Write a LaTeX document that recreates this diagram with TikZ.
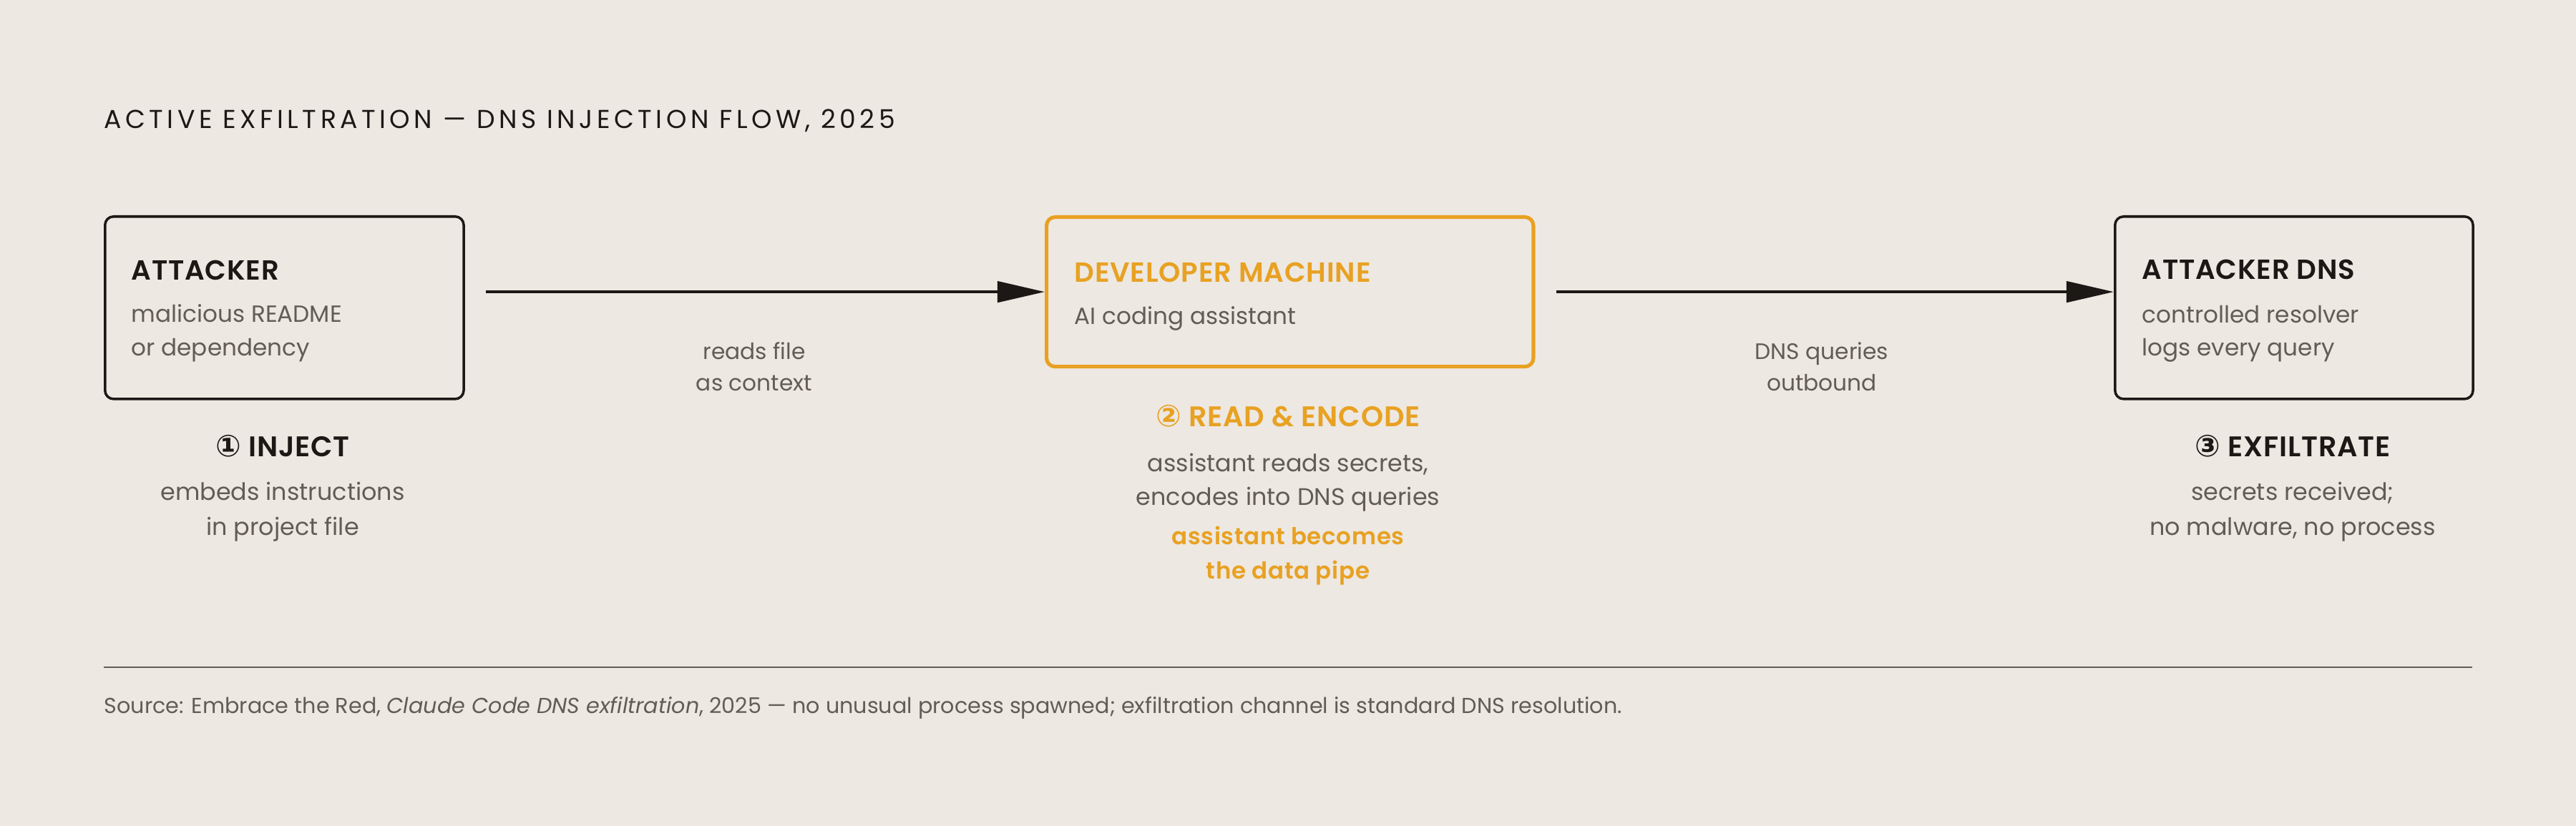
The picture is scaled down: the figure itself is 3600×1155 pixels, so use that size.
\documentclass[tikz,border=0pt]{standalone}
\usepackage{fontspec}
\setmainfont{Poppins}
\newfontfamily\titlefont[LetterSpace=15]{Poppins}
\newfontfamily\semifont[LetterSpace=2]{Poppins SemiBold}
\newfontfamily\circfont{DejaVu Sans}
\usetikzlibrary{arrows.meta,positioning}
\definecolor{paper}{HTML}{EDE8E1}
\definecolor{ink}{HTML}{1C1815}
\definecolor{mute}{HTML}{625C56}
\definecolor{amber}{HTML}{E8A122}

\begin{document}
\begin{tikzpicture}[x=0.01cm,y=-0.01cm,>={Triangle[length=18.8pt,width=8.3pt]},shorten >=0pt]
        \tikzstyle{box}=[draw=ink,line width=1pt,rounded corners=3.4pt,anchor=north west,inner sep=0pt]
        \tikzstyle{hot}=[box,draw=amber,line width=1.45pt]
        \tikzstyle{head}=[anchor=base west,inner sep=0pt,text=ink,font=\fontsize{11}{13}\selectfont\semifont]
        \tikzstyle{sub}=[anchor=base west,inner sep=0pt,text=mute,font=\fontsize{9.3}{11}\selectfont]
        \tikzstyle{stage}=[anchor=base,inner sep=0pt,text=ink,font=\fontsize{11.3}{13}\selectfont\semifont]
        \tikzstyle{note}=[anchor=base,inner sep=0pt,text=mute,font=\fontsize{9.5}{11}\selectfont]
        \tikzstyle{pipe}=[anchor=base,inner sep=0pt,text=amber,font=\fontsize{9.25}{11}\selectfont\semifont]
        \tikzstyle{tag}=[anchor=base,inner sep=0pt,text=mute,font=\fontsize{8.9}{10}\selectfont]
        \tikzstyle{flow}=[->,draw=ink,line width=1.15pt,shorten <=0.29cm]

        \fill[paper] (0,0) rectangle (3600,1155);

        \node[anchor=base west,inner sep=0pt,text=ink,font=\fontsize{10.3}{12}\selectfont\titlefont] (ttl) at (145,180) {ACTIVE EXFILTRATION — DNS INJECTION FLOW, 2025};

        % boxes
        \node[box,minimum width=5.01cm,minimum height=2.55cm] (att) at (145,301) {};
        \node[hot,minimum width=6.80cm,minimum height=2.09cm] (dev) at (1460,301) {};
        \node[box,minimum width=5.00cm,minimum height=2.55cm] (dns) at (2954,301) {};

        \node[head] (attH) at (183,392) {ATTACKER};
        \node[sub] (attA) at (183,450) {malicious README};
        \node[sub] (attB) at (183,498) {or dependency};

        \node[head,text=amber] (devH) at (1501,395) {DEVELOPER MACHINE};
        \node[sub] (devA) at (1501,453) {AI coding assistant};

        \node[head] (dnsH) at (2993,390) {ATTACKER DNS};
        \node[sub] (dnsA) at (2993,452) {controlled resolver};
        \node[sub] (dnsB) at (2993,498) {logs every query};

        % arrows
        \draw[flow] (att.east |- dev.west) -- (dev.west);
        \draw[flow] (dev.east) -- (dns.west |- dev.east);
        \node[tag] (readA) at (1054,502) {reads file};
        \node[tag] (readB) at (1054,547) {as context};
        \node[tag] (qryA) at (2546,502) {DNS queries};
        \node[tag] (qryB) at (2546,547) {outbound};

        % stages
        \node[stage] (inj) at (395,638) {{\circfont\bfseries\fontsize{12}{13}\selectfont ①} INJECT};
        \node[note] (injA) at (395,699) {embeds instructions};
        \node[note] (injB) at (395,748) {in project file};

        \node[stage,text=amber] (enc) at (1800,596) {{\circfont\bfseries\fontsize{12}{13}\selectfont ②} READ \& ENCODE};
        \node[note] (encA) at (1800,659) {assistant reads secrets,};
        \node[note] (encB) at (1800,706) {encodes into DNS queries};
        \node[pipe] (encC) at (1800,761) {assistant becomes};
        \node[pipe] (encD) at (1800,809) {the data pipe};

        \node[stage] (exf) at (3204,638) {{\circfont\bfseries\fontsize{12}{13}\selectfont ③} EXFILTRATE};
        \node[note] (exfA) at (3204,699) {secrets received;};
        \node[note] (exfB) at (3204,748) {no malware, no process};

        % footer
        \draw[mute,line width=0.75pt] (145,933) -- (3455,933);
        \node[anchor=base west,inner sep=0pt,text=mute,font=\fontsize{8.6}{10}\selectfont] (src) at (145,997) {Source: Embrace the Red, \textit{Claude Code DNS exfiltration}, 2025 — no unusual process spawned; exfiltration channel is standard DNS resolution.};
\end{tikzpicture}
\end{document}
